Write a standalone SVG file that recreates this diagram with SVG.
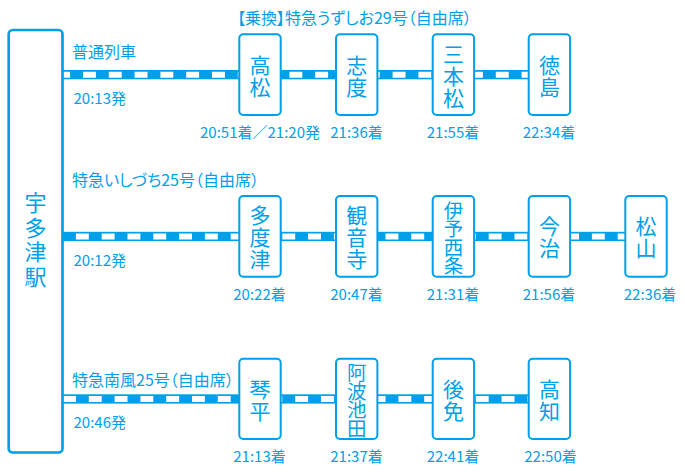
<svg xmlns="http://www.w3.org/2000/svg" width="685" height="474" viewBox="0 0 685 474">
<style>
.t{font-family:"Noto Sans CJK JP","Noto Sans",sans-serif;fill:#00a0e9;font-feature-settings:"palt";}
.lab{font-size:16px;}
.tm{font-size:15px;}
.st{font-size:21px;text-anchor:middle;dominant-baseline:central;}
.st4{font-size:19.5px;text-anchor:middle;dominant-baseline:central;}
.big{font-size:22px;text-anchor:middle;dominant-baseline:central;}
.box{fill:#fff;stroke:#00a0e9;stroke-width:2;}
.bed{fill:#00a0e9;}
.ties{stroke:#fff;stroke-width:6;stroke-dasharray:12.9 12.9;fill:none;}
</style>
<rect width="685" height="474" fill="#fff"/>
<g id="connectors">
  <rect class="bed" x="63" y="70" width="467" height="9.3"/>
  <line class="ties" x1="63" y1="74.65" x2="530" y2="74.65" stroke-dashoffset="5.8"/>
  <rect class="bed" x="63" y="231.8" width="564" height="9.3"/>
  <line class="ties" x1="63" y1="236.45" x2="627" y2="236.45" stroke-dashoffset="12.9"/>
  <rect class="bed" x="63" y="394.3" width="467" height="9.3"/>
  <line class="ties" x1="63" y1="398.95" x2="530" y2="398.95" stroke-dashoffset="0"/>
</g>
<g id="utazu">
  <rect x="8.7" y="30" width="53.8" height="422.5" rx="4" fill="#fff" stroke="#00a0e9" stroke-width="2.7"/>
  <text class="t big" x="35.5"><tspan x="35.5" y="201">宇</tspan><tspan x="35.5" y="225.7">多</tspan><tspan x="35.5" y="250.3">津</tspan><tspan x="35.5" y="275">駅</tspan></text>
</g>
<g id="labels">
  <text class="t lab" x="72" y="58">普通列車</text>
  <text class="t tm" x="73.5" y="104">20:13発</text>
  <text class="t lab" x="237" y="24">【乗換】特急うずしお29号（自由席）</text>
  <text class="t lab" x="72" y="185.5">特急いしづち25号（自由席）</text>
  <text class="t tm" x="73.5" y="266">20:12発</text>
  <text class="t lab" x="72" y="385.5">特急南風25号（自由席）</text>
  <text class="t tm" x="73.5" y="427.7">20:46発</text>
</g>
<!-- Row 1 -->
<g id="takamatsu">
  <rect class="box" x="239.3" y="34.3" width="41.4" height="80.7" rx="4"/>
  <text class="t st"><tspan x="260" y="63.7">高</tspan><tspan x="260" y="85.7">松</tspan></text>
  <text class="t tm" x="260" y="138" text-anchor="middle">20:51着／21:20発</text>
</g>
<g id="shido">
  <rect class="box" x="336" y="34.3" width="41.4" height="80.7" rx="4"/>
  <text class="t st"><tspan x="356.7" y="63.7">志</tspan><tspan x="356.7" y="85.7">度</tspan></text>
  <text class="t tm" x="356.5" y="138" text-anchor="middle">21:36着</text>
</g>
<g id="sanbonmatsu">
  <rect class="box" x="432.7" y="34.3" width="41.4" height="80.7" rx="4"/>
  <text class="t st"><tspan x="453.4" y="52.7">三</tspan><tspan x="453.4" y="74.7">本</tspan><tspan x="453.4" y="96.7">松</tspan></text>
  <text class="t tm" x="453" y="138" text-anchor="middle">21:55着</text>
</g>
<g id="tokushima">
  <rect class="box" x="528.7" y="34.3" width="41.4" height="80.7" rx="4"/>
  <text class="t st"><tspan x="549.4" y="63.7">徳</tspan><tspan x="549.4" y="85.7">島</tspan></text>
  <text class="t tm" x="549" y="138" text-anchor="middle">22:34着</text>
</g>
<!-- Row 2 -->
<g id="tadotsu">
  <rect class="box" x="239.3" y="196" width="41.4" height="80.7" rx="4"/>
  <text class="t st"><tspan x="260" y="214.4">多</tspan><tspan x="260" y="236.4">度</tspan><tspan x="260" y="258.4">津</tspan></text>
  <text class="t tm" x="259.5" y="300" text-anchor="middle">20:22着</text>
</g>
<g id="kanonji">
  <rect class="box" x="336" y="196" width="41.4" height="80.7" rx="4"/>
  <text class="t st"><tspan x="356.7" y="214.4">観</tspan><tspan x="356.7" y="236.4">音</tspan><tspan x="356.7" y="258.4">寺</tspan></text>
  <text class="t tm" x="356.5" y="300" text-anchor="middle">20:47着</text>
</g>
<g id="iyosaijo">
  <rect class="box" x="432.7" y="196" width="41.4" height="80.7" rx="4"/>
  <text class="t st4"><tspan x="453.4" y="208.6">伊</tspan><tspan x="453.4" y="227.1">予</tspan><tspan x="453.4" y="245.6">西</tspan><tspan x="453.4" y="264.1">条</tspan></text>
  <text class="t tm" x="453" y="300" text-anchor="middle">21:31着</text>
</g>
<g id="imabari">
  <rect class="box" x="528.7" y="196" width="41.4" height="80.7" rx="4"/>
  <text class="t st"><tspan x="549.4" y="225.4">今</tspan><tspan x="549.4" y="247.4">治</tspan></text>
  <text class="t tm" x="549" y="300" text-anchor="middle">21:56着</text>
</g>
<g id="matsuyama">
  <rect class="box" x="625.3" y="196" width="41.4" height="80.7" rx="4"/>
  <text class="t st"><tspan x="646" y="225.4">松</tspan><tspan x="646" y="247.4">山</tspan></text>
  <text class="t tm" x="650" y="300" text-anchor="middle">22:36着</text>
</g>
<!-- Row 3 -->
<g id="kotohira">
  <rect class="box" x="239.3" y="358.7" width="41.4" height="80.3" rx="4"/>
  <text class="t st"><tspan x="260" y="387.9">琴</tspan><tspan x="260" y="409.9">平</tspan></text>
  <text class="t tm" x="259.5" y="462" text-anchor="middle">21:13着</text>
</g>
<g id="awaikeda">
  <rect class="box" x="336" y="358.7" width="41.4" height="80.3" rx="4"/>
  <text class="t st4"><tspan x="356.7" y="371.2">阿</tspan><tspan x="356.7" y="389.7">波</tspan><tspan x="356.7" y="408.2">池</tspan><tspan x="356.7" y="426.7">田</tspan></text>
  <text class="t tm" x="356.5" y="462" text-anchor="middle">21:37着</text>
</g>
<g id="gomen">
  <rect class="box" x="432.7" y="358.7" width="41.4" height="80.3" rx="4"/>
  <text class="t st"><tspan x="453.4" y="387.9">後</tspan><tspan x="453.4" y="409.9">免</tspan></text>
  <text class="t tm" x="453" y="462" text-anchor="middle">22:41着</text>
</g>
<g id="kochi">
  <rect class="box" x="528.7" y="358.7" width="41.4" height="80.3" rx="4"/>
  <text class="t st"><tspan x="549.4" y="387.9">高</tspan><tspan x="549.4" y="409.9">知</tspan></text>
  <text class="t tm" x="550.5" y="462" text-anchor="middle">22:50着</text>
</g>
</svg>
